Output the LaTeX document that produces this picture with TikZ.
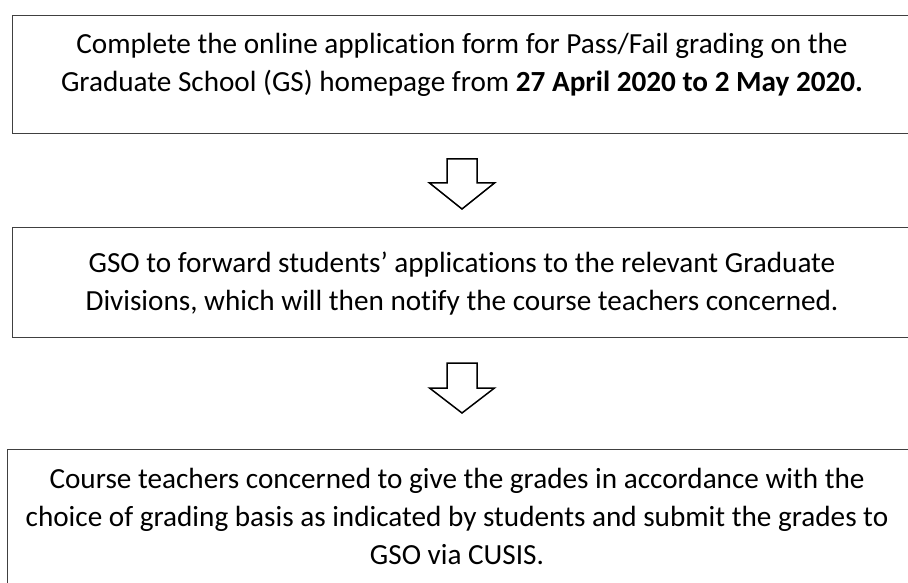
\documentclass[tikz,border=0pt]{standalone}
\usepackage{fontspec}
\setmainfont{Carlito}[Ligatures=NoCommon]

\tikzset{
  stepbox/.style={draw=black!75, line width=1pt, rectangle, anchor=north west, inner sep=0pt},
  steptext/.style={anchor=north, align=center, inner sep=0pt, font=\fontsize{29.2}{38}\selectfont},
  blockarrow/.style={draw=black, line width=1.5pt, line join=miter}
}

\begin{document}
\begin{tikzpicture}[x=1pt, y=-1pt]
\useasboundingbox (0,0) rectangle (908,583);
\clip (0,0) rectangle (908,583);

\node (apply) at (12,15) [stepbox, minimum width=900pt, minimum height=118pt] {};
\node (forward) at (12,227) [stepbox, minimum width=900pt, minimum height=110pt] {};
\node (grade) at (7,449) [stepbox, minimum width=905pt, minimum height=140pt] {};

\node (applytext) at (462,33.5) [steptext] {Complete the online application form for Pass/Fail grading on the\\
  Graduate School (GS) homepage from \textbf{27 April 2020 to 2 May 2020.}};
\node (forwardtext) at (462,251.5) [steptext] {GSO to forward students’ applications to the relevant Graduate\\
  Divisions, which will then notify the course teachers concerned.};
\node (gradetext) at (457,468.5) [steptext] {Course teachers concerned to give the grades in accordance with the\\
  choice of grading basis as indicated by students and submit the grades to\\
  GSO via CUSIS.};

\coordinate (down1) at (462,159);
\coordinate (down2) at (462,363);
\draw [blockarrow] (down1) ++(-15,0) -- ++(30,0) -- ++(0,24) -- ++(17.5,0) -- ++(-32.5,26) -- ++(-32.5,-26) -- ++(17.5,0) -- cycle;
\draw [blockarrow] (down2) ++(-15,0) -- ++(30,0) -- ++(0,25) -- ++(17.5,0) -- ++(-32.5,25) -- ++(-32.5,-25) -- ++(17.5,0) -- cycle;
\end{tikzpicture}
\end{document}
